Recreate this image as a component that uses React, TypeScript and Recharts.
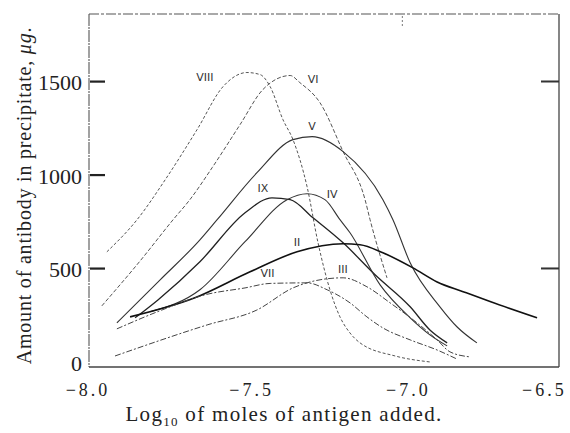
import React from "react";
import { LineChart, Line, XAxis, YAxis, ReferenceDot } from "recharts";

// ---- data (x = log10 moles antigen, y = antibody µg) ----
const xTicks = [-8, -7.5, -7, -6.5];
const yTicks = [0, 500, 1000, 1500];
const leftMarkTicks = [500, 1000, 1500];
const rightTicks = [500, 1500];
const topTicks = [-7];

const curveVIII: [number, number][] = [
  [-7.943, 589], [-7.847, 760], [-7.757, 974], [-7.655, 1243], [-7.572, 1473],
  [-7.496, 1548], [-7.454, 1537], [-7.422, 1473], [-7.381, 1296], [-7.349, 1189],
  [-7.304, 937], [-7.269, 637], [-7.231, 386], [-7.199, 241], [-7.167, 155],
  [-7.135, 102], [-7.023, 32], [-6.912, 0],
];
const curveVI: [number, number][] = [
  [-7.959, 300], [-7.837, 540], [-7.732, 760], [-7.678, 868], [-7.607, 1039],
  [-7.518, 1269], [-7.445, 1457], [-7.358, 1532], [-7.327, 1494], [-7.263, 1387],
  [-7.189, 1125], [-7.119, 868], [-7.103, 761], [-7.049, 450],
];
const curveV: [number, number][] = [
  [-7.911, 209], [-7.773, 439], [-7.646, 653], [-7.591, 761], [-7.464, 1012],
  [-7.349, 1189], [-7.288, 1205], [-7.189, 1125], [-7.062, 868], [-7.03, 761],
  [-6.975, 530], [-6.88, 295], [-6.825, 187], [-6.762, 102],
];
const curveIX: [number, number][] = [
  [-7.853, 236], [-7.78, 332], [-7.646, 536], [-7.502, 798], [-7.416, 878],
  [-7.358, 868], [-7.285, 771], [-7.189, 637], [-7.087, 466], [-6.975, 295],
  [-6.912, 171], [-6.857, 102],
];
const curveIV: [number, number][] = [
  [-7.805, 268], [-7.646, 386], [-7.502, 643], [-7.368, 868], [-7.304, 900],
  [-7.247, 868], [-7.199, 761], [-7.167, 691], [-7.071, 412], [-6.975, 236],
  [-6.912, 145], [-6.857, 86],
];
const curveII: [number, number][] = [
  [-7.869, 241], [-7.662, 343], [-7.486, 482], [-7.336, 589], [-7.189, 632],
  [-7.135, 627], [-7.062, 584], [-6.966, 503], [-6.889, 428], [-6.806, 376],
  [-6.72, 323], [-6.57, 236],
];
const curveVII: [number, number][] = [
  [-7.911, 177], [-7.767, 278], [-7.63, 359], [-7.502, 396], [-7.422, 420],
  [-7.304, 423], [-7.24, 386], [-7.167, 316], [-7.113, 241], [-7.062, 182],
  [-6.975, 118], [-6.889, 64], [-6.825, 15],
];
const curveIII: [number, number][] = [
  [-7.917, 32], [-7.623, 198], [-7.464, 278], [-7.349, 396], [-7.24, 445],
  [-7.189, 450], [-7.113, 402], [-7.039, 316], [-6.953, 209], [-6.889, 118],
  [-6.848, 54], [-6.784, 27],
];

const curveNames = ["VIII", "VI", "V", "IX", "IV", "II", "VII", "III"];
const curves = [curveVIII, curveVI, curveV, curveIX, curveIV, curveII, curveVII, curveIII];

const labelNames = ["VIII", "VI", "V", "IX", "IV", "II", "VII", "III"];
const labelX = [-7.63, -7.285, -7.288, -7.445, -7.224, -7.336, -7.43, -7.19];
const labelY = [1500, 1494, 1243, 910, 878, 621, 455, 477];

// ---- styles / layout ----
const styles: Record<string, { stroke: string; width: number; dash?: string }> = {
  VIII: { stroke: "#555", width: 1, dash: "3 2" },
  VI: { stroke: "#555", width: 1, dash: "4 2" },
  V: { stroke: "#333", width: 1.1 },
  IX: { stroke: "#222", width: 1.3 },
  IV: { stroke: "#333", width: 1.1 },
  II: { stroke: "#111", width: 1.6 },
  VII: { stroke: "#444", width: 1, dash: "6 2 2 2" },
  III: { stroke: "#444", width: 1, dash: "6 2 2 2" },
};

const LEFT_W = 89;
const RIGHT_W = 11;
const SERIF = "Liberation Serif, Times New Roman, serif";
const SANS = "DejaVu Sans, Liberation Sans, sans-serif";
const Y_DOMAIN: [number, number] = [-27, 1861];
const X_DOMAIN: [number, number] = [-8, -6.5];

const fmtX = (v: number) => "\u2212" + Math.abs(v).toFixed(1);

const XTick = (props: any) => {
  const { x, y, payload } = props;
  const v = Number(payload.value);
  const dx = v === -6.5 ? -13 : v === -8 ? -1 : 6;
  return (
    <text x={x + dx} y={y + 29} textAnchor="middle" fontFamily={SERIF} fontSize={18} letterSpacing={3} fill="#222">
      {fmtX(v)}
    </text>
  );
};

// left tick: label outside, short filled bar inside the frame
const YTick = (props: any) => {
  const { x, y, payload } = props;
  const v = Number(payload.value);
  const xx = Number(x);
  const yy = Number(y);
  return (
    <g>
      {leftMarkTicks.includes(v) ? (
        <rect x={xx + 1} y={yy - 1} width={15} height={2.2} fill="#222" />
      ) : null}
      <text x={xx - 7} y={yy + 9} textAnchor="end" fontFamily={SERIF} fontSize={22} fill="#222">
        {v}
      </text>
    </g>
  );
};

const RightTick = (props: any) => {
  const { x, y } = props;
  return <rect x={Number(x) - 18} y={Number(y) - 1} width={18} height={2} fill="#333" />;
};

const TopTick = (props: any) => {
  const { x, y } = props;
  return <line x1={x} y1={y + 2} x2={x} y2={y + 12} stroke="#777" strokeWidth={1} strokeDasharray="2 2" />;
};

const XTitle = (props: any) => {
  const vb = props.viewBox || { x: 89, y: 367, width: 470, height: 66 };
  const cx = vb.x + vb.width / 2 - 40;
  const by = vb.y + 54;
  return (
    <text x={cx} y={by} textAnchor="middle" fontFamily={SERIF} fontSize={21} letterSpacing={1.3} fill="#222">
      <tspan>Log</tspan>
      <tspan fontSize={13} dy={5}>10</tspan>
      <tspan dy={-5}> of moles of antigen added.</tspan>
    </text>
  );
};

const YTitle = (props: any) => {
  const vb = props.viewBox || { x: 0, y: 14, width: 89, height: 353 };
  const cy = vb.y + vb.height / 2 + 5;
  return (
    <text
      transform={`translate(31, ${cy}) rotate(-90)`}
      x={0}
      y={0}
      textAnchor="middle"
      fontFamily={SERIF}
      fontSize={20}
      letterSpacing={0.8}
      fill="#222"
    >
      Amount of antibody in precipitate, <tspan fontStyle="italic">μg</tspan>.
    </text>
  );
};

const CurveLabel = (name: string) => (props: any) => {
  const { cx, cy } = props;
  return (
    <text x={cx} y={cy} textAnchor="middle" fontFamily={SANS} fontSize={11} fill="#333">
      {name}
    </text>
  );
};

export default function App() {
  return (
    <div style={{ position: "absolute", left: 0, top: 0, width: 570, height: 433, background: "#fff" }}>
      <LineChart width={570} height={433} margin={{ top: 0, right: 0, bottom: 0, left: 0 }}>
        {curves.map((c, i) => {
          const name = curveNames[i];
          const s = styles[name];
          return (
            <Line
              key={name}
              xAxisId="bottom"
              yAxisId="left"
              data={c.map(([x, y]) => ({ x, y }))}
              dataKey="y"
              type="monotone"
              stroke={s.stroke}
              strokeWidth={s.width}
              strokeDasharray={s.dash}
              dot={false}
              activeDot={false}
              isAnimationActive={false}
            />
          );
        })}
        {labelNames.map((n, i) => (
          <ReferenceDot
            key={"lbl" + n}
            xAxisId="bottom"
            yAxisId="left"
            x={labelX[i]}
            y={labelY[i]}
            r={0}
            ifOverflow="visible"
            shape={CurveLabel(n)}
          />
        ))}
        <XAxis
          xAxisId="bottom"
          type="number"
          dataKey="x"
          domain={X_DOMAIN}
          ticks={xTicks}
          allowDataOverflow
          height={66}
          tickSize={0}
          tickMargin={0}
          tickLine={false}
          axisLine={{ stroke: "#444", strokeWidth: 1.5 }}
          tick={<XTick />}
          label={{ content: (p: any) => <XTitle {...p} /> }}
        />
        <XAxis
          xAxisId="top"
          orientation="top"
          type="number"
          dataKey="x"
          domain={X_DOMAIN}
          ticks={topTicks}
          allowDataOverflow
          height={14}
          tickSize={0}
          tickMargin={0}
          tickLine={false}
          axisLine={{ stroke: "#555", strokeWidth: 1.2, strokeDasharray: "10 2 3 2" }}
          tick={<TopTick />}
        />
        <YAxis
          yAxisId="left"
          type="number"
          domain={Y_DOMAIN}
          ticks={yTicks}
          allowDataOverflow
          width={LEFT_W}
          tickSize={0}
          tickMargin={0}
          tickLine={false}
          axisLine={{ stroke: "#555", strokeWidth: 1.1, strokeDasharray: "12 1 2 1" }}
          tick={<YTick />}
          label={{ content: (p: any) => <YTitle {...p} /> }}
        />
        <YAxis
          yAxisId="right"
          orientation="right"
          type="number"
          domain={Y_DOMAIN}
          ticks={rightTicks}
          allowDataOverflow
          width={RIGHT_W}
          tickSize={0}
          tickMargin={0}
          tickLine={false}
          axisLine={{ stroke: "#444", strokeWidth: 1.3 }}
          tick={<RightTick />}
        />
      </LineChart>
    </div>
  );
}
